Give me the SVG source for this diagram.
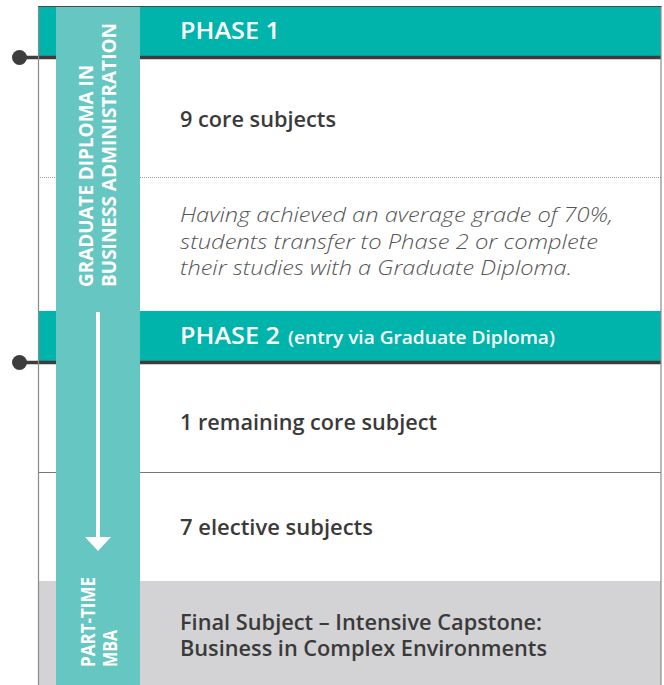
<svg xmlns="http://www.w3.org/2000/svg" width="664" height="685" viewBox="0 0 664 685">
<style>
.hdr{fill:#00B4AC}
.col{fill:#66C6C1}
.bar{stroke:#3d3d3d;stroke-width:3.5;fill:none}
.dot{fill:#3d3d3d}
.ht{font-family:"Open Sans","Liberation Sans",sans-serif;font-weight:600;fill:#ffffff}
.bt{font-family:"Open Sans","Liberation Sans",sans-serif;font-weight:600;fill:#3a3a3a;font-size:21px}
.it{font-family:"Open Sans","Liberation Sans",sans-serif;font-weight:300;font-style:italic;fill:#555555;font-size:20px}
.vt{font-family:"Open Sans","Liberation Sans",sans-serif;font-weight:700;fill:#ffffff;font-size:19px}
</style>
<rect x="0" y="0" width="664" height="685" fill="#ffffff"/>

<g id="final-subject-bg">
<rect x="38" y="581" width="623" height="104" fill="#D3D3D5"/>
</g>

<g id="phase1-header">
<rect class="hdr" x="38" y="6.5" width="623" height="49.5"/>
<text class="ht" x="180" y="39" font-size="23" textLength="100" lengthAdjust="spacingAndGlyphs">PHASE 1</text>
</g>

<g id="phase2-header">
<rect class="hdr" x="38" y="311" width="623" height="50"/>
<text class="ht" x="180" y="344" font-size="23" textLength="100" lengthAdjust="spacingAndGlyphs">PHASE 2</text>
<text class="ht" x="288" y="344" font-size="18.5" textLength="267" lengthAdjust="spacingAndGlyphs">(entry via Graduate Diploma)</text>
</g>

<g id="dividers">
<line x1="38" y1="177.5" x2="661" y2="177.5" stroke="#9a9a9a" stroke-width="1" stroke-dasharray="1 1"/>
<line x1="38" y1="472.5" x2="661" y2="472.5" stroke="#777777" stroke-width="1.2"/>
</g>

<g id="connectors">
<line class="bar" x1="20" y1="57.5" x2="661" y2="57.5"/>
<circle class="dot" cx="19.5" cy="57.5" r="7.5"/>
<line class="bar" x1="20" y1="362.5" x2="661" y2="362.5"/>
<circle class="dot" cx="19.5" cy="362.5" r="7.5"/>
</g>

<g id="side-column">
<rect class="col" x="56" y="6.5" width="84" height="679"/>
</g>

<g id="frame">
<line x1="38.5" y1="6" x2="38.5" y2="685" stroke="#8a8a8a" stroke-width="1.2"/>
<line x1="661" y1="6" x2="661" y2="685" stroke="#8a8a8a" stroke-width="1.2"/>
<line x1="38" y1="6.5" x2="661.5" y2="6.5" stroke="#4a4a4a" stroke-width="1"/>
</g>

<g id="side-gdba">
<text class="vt" transform="translate(93,287) rotate(-90)" textLength="222" lengthAdjust="spacingAndGlyphs">GRADUATE DIPLOMA IN</text>
<text class="vt" transform="translate(115.5,287) rotate(-90)" textLength="264" lengthAdjust="spacingAndGlyphs">BUSINESS ADMINISTRATION</text>
</g>

<g id="flow-arrow">
<line x1="98" y1="312" x2="98" y2="540" stroke="#ffffff" stroke-width="4"/>
<polygon points="85,537 111,537 98,551" fill="#ffffff"/>
</g>

<g id="side-mba">
<text class="vt" transform="translate(95,667) rotate(-90)" textLength="90" lengthAdjust="spacingAndGlyphs">PART-TIME</text>
<text class="vt" transform="translate(117,667) rotate(-90)" textLength="37" lengthAdjust="spacingAndGlyphs">MBA</text>
</g>

<g id="phase1-core">
<text class="bt" x="180" y="127" textLength="156" lengthAdjust="spacingAndGlyphs">9 core subjects</text>
</g>

<g id="phase1-note">
<text class="it" x="180" y="221.5" textLength="433" lengthAdjust="spacingAndGlyphs">Having achieved an average grade of 70%,</text>
<text class="it" x="180" y="248.5" textLength="418" lengthAdjust="spacingAndGlyphs">students transfer to Phase 2 or complete</text>
<text class="it" x="180" y="275" textLength="392" lengthAdjust="spacingAndGlyphs">their studies with a Graduate Diploma.</text>
</g>

<g id="phase2-core">
<text class="bt" x="180" y="430" textLength="257" lengthAdjust="spacingAndGlyphs">1 remaining core subject</text>
</g>

<g id="phase2-electives">
<text class="bt" x="180" y="535" textLength="193" lengthAdjust="spacingAndGlyphs">7 elective subjects</text>
</g>

<g id="final-subject">
<text class="bt" x="180" y="630" textLength="362" lengthAdjust="spacingAndGlyphs">Final Subject – Intensive Capstone:</text>
<text class="bt" x="180" y="656" textLength="367" lengthAdjust="spacingAndGlyphs">Business in Complex Environments</text>
</g>
</svg>
